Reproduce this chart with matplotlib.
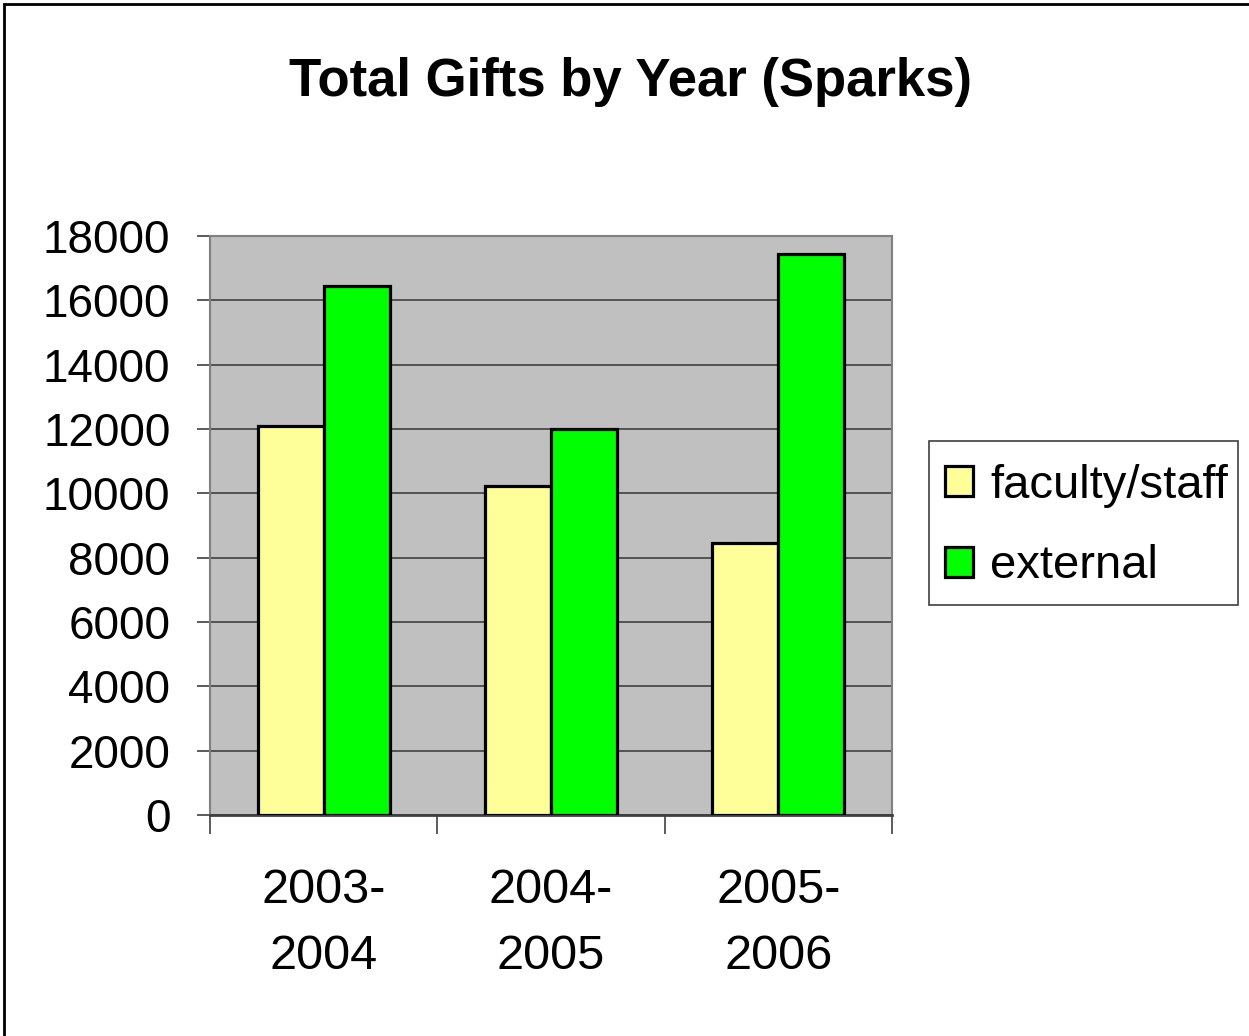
import matplotlib.pyplot as plt
from matplotlib.patches import Rectangle

years = ['2003-\n2004', '2004-\n2005', '2005-\n2006']
faculty_staff = [12080, 10240, 8460]
external = [16450, 11990, 17430]

plt.rcParams['font.family'] = ['Liberation Sans', 'DejaVu Sans']

fig = plt.figure(figsize=(12.49, 10.36), dpi=100)
ax = fig.add_axes([210 / 1249, 1 - 815 / 1036, 682 / 1249, 579 / 1036])
ax.set_facecolor('#c0c0c0')

x = list(range(len(years)))
w = 0.29
ax.bar([i - w / 2 for i in x], faculty_staff, w, color='#ffff99',
       edgecolor='black', linewidth=2.3, label='faculty/staff', zorder=3)
ax.bar([i + w / 2 for i in x], external, w, color='#00ff00',
       edgecolor='black', linewidth=2.3, label='external', zorder=3)

ax.set_xlim(-0.5, 2.5)
ax.set_ylim(0, 18000)
ax.set_yticks(range(0, 18001, 2000))
ax.yaxis.grid(True, color='#404040', linewidth=1.2, zorder=1)
ax.tick_params(axis='y', labelsize=33, length=9.5, width=1.2, color='#404040', pad=19)

# category ticks sit on the boundaries between groups
ax.set_xticks([-0.5, 0.5, 1.5, 2.5])
ax.set_xticklabels([])
ax.tick_params(axis='x', length=14, width=1.2, color='#404040')
for i, lab in enumerate(years):
    ax.text(i, -1660, lab, ha='center', va='top', fontsize=35,
            linespacing=1.6, transform=ax.transData)

for side in ['top', 'right', 'left']:
    ax.spines[side].set_color('#808080')
    ax.spines[side].set_linewidth(1.5)
ax.spines['bottom'].set_color('#404040')
ax.spines['bottom'].set_linewidth(2)

fig.text(0.505, 1 - 82 / 1036, 'Total Gifts by Year (Sparks)', ha='center',
         va='center', fontsize=38, fontweight='bold')

# legend entries without frame, box drawn separately
leg = fig.legend(loc='center left', bbox_to_anchor=(945 / 1249, 1 - 526 / 1036),
                 fontsize=34, frameon=False,
                 handlelength=0.6, handleheight=0.6, handletextpad=0.36,
                 borderpad=0, labelspacing=0.78, borderaxespad=0)
for h in leg.legend_handles:
    h.set_linewidth(2.3)
fig.patches.append(Rectangle((929 / 1249, 1 - 605 / 1036), 309 / 1249, 164 / 1036,
                             transform=fig.transFigure, fill=False,
                             edgecolor='#404040', linewidth=1.2))

fig.patches.append(Rectangle((4 / 1249, -0.1), 1.2, 1 - 4 / 1036 + 0.1,
                             transform=fig.transFigure, fill=False,
                             edgecolor='black', linewidth=2))

fig.savefig('out.png', dpi=100)
